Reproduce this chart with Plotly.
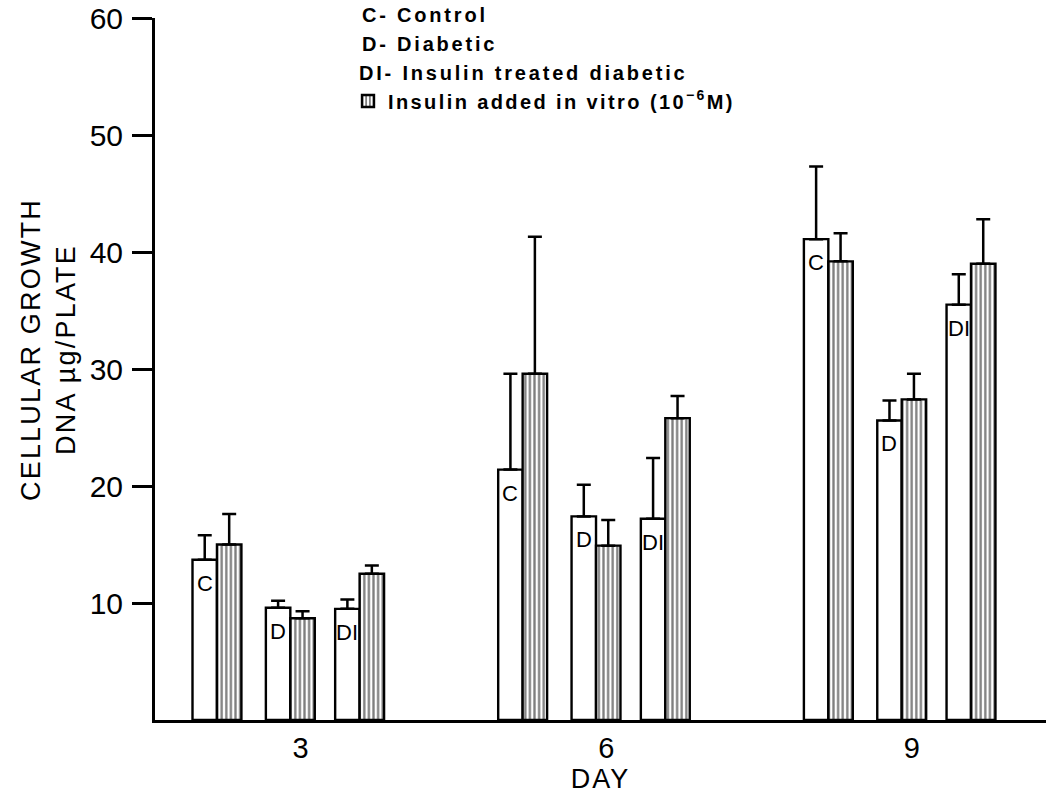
import plotly.graph_objects as go

# ---- data ----
days = [3, 6, 9]
tick_labels = ["3", "6", "9"]
group_labels = ["C", "D", "DI"]

control = [13.7, 21.4, 41.1]
control_err = [2.1, 8.2, 6.2]
control_ins = [15.0, 29.6, 39.2]
control_ins_err = [2.6, 11.7, 2.4]

diabetic = [9.6, 17.4, 25.6]
diabetic_err = [0.6, 2.7, 1.7]
diabetic_ins = [8.7, 14.9, 27.4]
diabetic_ins_err = [0.6, 2.2, 2.2]

ins_diabetic = [9.5, 17.2, 35.5]
ins_diabetic_err = [0.8, 5.2, 2.6]
ins_diabetic_ins = [12.5, 25.8, 39.0]
ins_diabetic_ins_err = [0.7, 1.9, 3.8]

yticks = [10, 20, 30, 40, 50, 60]

# ---- layout helpers ----
BW = 0.24                       # bar width in day units
group_edge = [-0.82, -0.10, 0.58]  # plain/hatched boundary for C, D, DI relative to day
FONT = "Liberation Sans, Arial, sans-serif"

def spaced(txt, ls):
    return '<span style="letter-spacing:%spx">%s</span>' % (ls, txt)

plain_sets = [(control, control_err), (diabetic, diabetic_err), (ins_diabetic, ins_diabetic_err)]
ins_sets = [(control_ins, control_ins_err), (diabetic_ins, diabetic_ins_err),
            (ins_diabetic_ins, ins_diabetic_ins_err)]

fig = go.Figure()

err_style = dict(type="data", symmetric=False, color="black", thickness=2.5, width=7)

for g in range(3):
    vals, errs = plain_sets[g]
    fig.add_trace(go.Bar(
        x=days, y=vals, width=BW, offset=group_edge[g] - BW,
        marker=dict(color="white", line=dict(color="black", width=2.4)),
        error_y=dict(array=errs, arrayminus=[0] * len(errs), **err_style),
        showlegend=False, hoverinfo="skip"))
    vals2, errs2 = ins_sets[g]
    fig.add_trace(go.Bar(
        x=days, y=vals2, width=BW, offset=group_edge[g],
        marker=dict(color="white", line=dict(color="black", width=2.4),
                    pattern=dict(shape="|", fgcolor="black", bgcolor="white",
                                 size=4.6, solidity=0.5)),
        error_y=dict(array=errs2, arrayminus=[0] * len(errs2), **err_style),
        name=spaced("Insulin added in vitro (10<sup>−6</sup>M)", 2.4),
        showlegend=(g == 0), hoverinfo="skip"))

# letters inside plain bars
for g in range(3):
    vals, _ = plain_sets[g]
    for d, v in zip(days, vals):
        fig.add_annotation(x=d + group_edge[g] - BW / 2, y=v, xref="x", yref="y",
                           text=group_labels[g], showarrow=False, yanchor="top",
                           yshift=-9, font=dict(family=FONT, size=22, color="black"))

# key text lines
W0, PW, PH, TOP = 155, 891, 702, 18
def px_x(p):
    return (p - W0) / PW
def px_y(p):
    return (TOP + PH - p) / PH

key_lines = [("C- Control", 360, 15), ("D- Diabetic", 360, 44),
             ("DI- Insulin treated diabetic", 357, 73)]
for txt, xx, yy in key_lines:
    fig.add_annotation(x=px_x(xx), y=px_y(yy), xref="paper", yref="paper",
                       text=spaced(txt, 2.8), showarrow=False, xanchor="left",
                       yanchor="middle",
                       font=dict(family=FONT, size=20, color="black", weight="bold"))

# y axis title (two lines)
fig.add_annotation(x=px_x(49), y=px_y(350), xref="paper", yref="paper",
                   text=spaced("CELLULAR GROWTH", 2.2) + "<br>" + spaced("DNA µg/PLATE", 2.2),
                   textangle=-90,
                   showarrow=False, xanchor="center", yanchor="middle",
                   font=dict(family=FONT, size=27, color="black"))

fig.update_layout(
    width=1046, height=796,
    margin=dict(l=155, r=0, t=18, b=76, autoexpand=False),
    paper_bgcolor="white", plot_bgcolor="white",
    barmode="overlay",
    font=dict(family=FONT, color="black"),
    legend=dict(x=px_x(348), y=px_y(101),
                xanchor="left", yanchor="middle", bgcolor="rgba(0,0,0,0)",
                font=dict(family=FONT, size=20, color="black", weight="bold"),
                itemwidth=30),
    xaxis=dict(range=[1.572, 10.316], tickvals=days, ticktext=tick_labels,
               showline=True, linecolor="black", linewidth=3, ticks="",
               showgrid=False, zeroline=False,
               tickfont=dict(family=FONT, size=29, color="black"),
               title=dict(text=spaced("DAY", 2), font=dict(family=FONT, size=27, color="black"),
                          standoff=4)),
    yaxis=dict(range=[0, 60], tickvals=yticks, showline=True, linecolor="black",
               linewidth=3, ticks="outside", ticklen=20, tickwidth=2.5,
               tickcolor="black", showgrid=False, zeroline=False,
               tickfont=dict(family=FONT, size=30, color="black"),
               ticklabelstandoff=3),
)

fig.write_html("out.html")
